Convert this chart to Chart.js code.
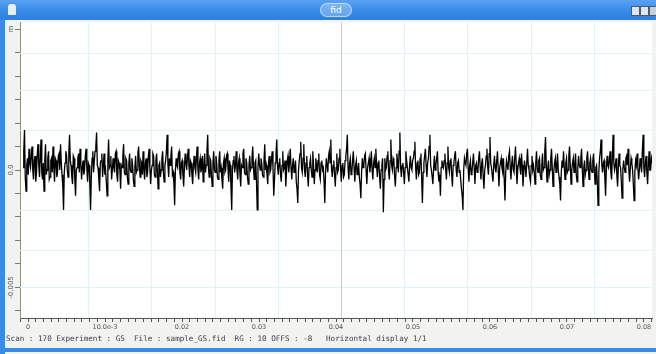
<!DOCTYPE html>
<html>
<head>
<meta charset="utf-8">
<script src="https://cdn.jsdelivr.net/npm/chart.js@4.4.1/dist/chart.umd.min.js"></script>
<style>
  body { margin: 0; background: #fff; }
  #win { position: relative; width: 656px; height: 354px; overflow: hidden; background: #f2f2f0; }
  #plot { position: absolute; left: 0; top: 0; }
  .title { position: absolute; left: 0; top: 0; width: 656px; height: 20px;
           background: linear-gradient(#58a2f2, #378ae8 55%, #2e7fe0); }
  .pill { position: absolute; left: 320px; top: 3px; width: 30px; height: 12px; border-radius: 7px;
          background: rgba(255,255,255,0.28); border: 1px solid rgba(255,255,255,0.55);
          color: #fff; font: 9px "DejaVu Sans", sans-serif; line-height: 12px; text-align: center; }
  .icon { position: absolute; left: 8px; top: 4px; width: 8px; height: 11px; background: #e8eef8; border-radius: 3px 3px 1px 1px; }
  .btn { position: absolute; top: 6px; width: 7px; height: 8px; background: #dfe6f0; border: 1px solid #4a5a70; }
  .lborder { position: absolute; left: 0; top: 20px; width: 5px; height: 334px; background: #3a8ae6; }
  .bborder { position: absolute; left: 0; top: 348px; width: 656px; height: 4px; background: #3a8ae6; }
  .status { position: absolute; left: 6px; top: 334px; font: 7.6px "DejaVu Sans Mono", monospace;
            color: #3a4050; white-space: pre; }
</style>
</head>
<body>
<div id="win">
  <canvas id="plot" width="656" height="354"></canvas>
  <div class="title"><div class="icon"></div><div class="pill">fid</div>
    <div class="btn" style="left:631px"></div><div class="btn" style="left:640px"></div><div class="btn" style="left:649px;background:#c8d0dc"></div>
  </div>
  <div class="lborder"></div>
  <div class="bborder"></div>
  <div class="status">Scan : 170 Experiment : GS  File : sample_GS.fid  RG : 10 OFFS : -8   Horizontal display 1/1</div>
</div>
<script>
// acquisition: first sample time and dwell time (s)
const t0 = -0.00065
const dwell = 0.0000975

// signal, in units of 0.1 mV
const signal = [
  1, 8, 17, -3, -9, 2, 5, -2, 9, 3, 1, 6, 10, 0, -4, 4, 6, -5, -1, 7, 11, 2, -3, 5, 13, -1, -4, 3, -9, 4, 11, -2, 0, 5, 8, -4, -3, 4, 5, -1,
  10, 1, -5, 5, 4, -3, -1, 6, 7, 0, 11, 3, -2, -7, -17, -1, 3, 8, 6, 0, -3, 7, 15, 4, 2, -3, -6, 6, 5, -4, -11, 0, 1, 5, 7, -1, 9, 3, -4, 1,
  4, -2, 0, 6, 9, 1, -5, 3, 2, -6, -17, -3, 5, 8, -1, 4, 8, 10, 16, 2, 1, -4, -9, 3, 4, 7, -3, 2, 7, -2, 0, -5, -11, 4, 13, 1, 2, 6, -4, 0,
  5, 1, -1, 7, 8, -2, -5, 4, 3, 0, -8, 2, 1, 6, 11, -1, -2, 5, 4, -3, -6, 3, 7, 0, -1, 5, 2, -4, -7, 1, 6, -1, 0, 7, 10, 2, -3, 4, 3, -2,
  8, 0, -4, 3, 5, -3, -1, 6, 9, 1, -6, 0, 2, 7, 6, -2, -3, 4, 7, -1, -8, 2, 3, -3, 0, 5, 8, -1, -5, 2, 4, 8, 15, 3, -3, 5, 2, 6, 10, -2,
  -1, -6, -15, 0, 5, 2, 1, 7, 8, -1, -4, 3, 4, -2, -7, 1, 7, 3, 0, 5, 9, 2, -3, 4, 3, -2, -6, 2, 6, 1, -1, 5, 10, 0, -4, 3, 5, -1, 1, 6,
  -5, 2, 7, -1, 2, 8, 15, 1, -3, 5, 4, -2, -7, 3, 8, 0, -1, 6, 3, -3, -4, 4, 8, -1, 1, -4, -8, 3, 5, -1, 0, 6, 7, 1, -5, 4, 2, -7, -17, 0,
  4, 6, -1, 2, 8, 0, -4, 3, 5, -2, -7, 2, 1, 7, 9, -1, -2, 5, 3, -3, -6, 2, 6, 0, 1, 5, 10, 1, -4, 3, 4, -5, -17, 1, 7, 2, 0, 5, 3, -2,
  -3, 4, 11, 0, 2, -2, -6, 3, 6, -1, 0, 5, 8, 1, -11, -4, 3, 7, 13, 2, -2, 3, 5, -2, -5, 2, 8, 0, 1, 4, -7, -1, 4, 6, -1, 3, 9, 1, -4, 2,
  5, -1, 1, 4, -5, -8, -14, 0, 4, 7, 12, 1, -1, 5, 11, 0, -3, 3, 6, -2, -7, 1, 3, 5, 0, -3, 8, 2, -6, 0, 5, 2, -1, 4, 7, -2, -4, 3, 4, 0,
  1, -5, -14, -1, 5, 2, -1, 6, 8, 3, 13, 0, -3, 2, 4, -2, -7, 1, 7, -1, 0, 5, 9, 1, -5, 2, 3, -3, -2, 4, 6, 9, 15, 1, -4, 3, 5, -2, -1, 4,
  8, 1, -5, 2, 4, -2, 0, 3, -3, -6, -12, -1, 5, 1, 2, 6, 7, 0, -6, 1, 3, 5, -1, 2, 8, 0, -4, 3, 5, 1, 9, 2, -3, 3, 4, -3, -8, 0, 2, 5,
  -18, -4, 5, 0, 1, 6, 8, -1, -4, 4, 13, 2, 0, 5, 4, -3, -7, 1, 7, 3, -1, 8, 16, 1, -3, 2, 3, -1, -6, 1, 8, 4, 1, -2, -5, 2, 6, 1, 0, 4,
  5, 8, 12, 1, -4, 3, 4, -2, -1, 5, 7, -3, -14, -1, 3, 6, 9, 2, -3, 3, 5, 10, 15, 2, 0, -3, -6, 1, 6, 0, 2, 5, 8, -1, -5, -2, -11, 1, 4, 2,
  1, 4, 7, 0, -4, 3, 10, 1, -1, 4, 5, -2, -7, 2, 3, 6, 8, 0, -3, 3, 4, -1, 0, -4, -8, -11, -17, 0, 5, 3, 2, 7, 9, 1, -5, 2, 4, -2, -1, 3,
  7, 1, -6, 2, 3, -1, 0, 5, 8, 1, -4, 3, 5, -3, -8, 0, 2, 6, 9, 1, -2, 7, 14, 3, 1, -2, -5, 2, 6, 1, -1, 4, 8, 0, -7, 1, 3, 5, 1, -1,
  5, -4, -13, -1, 4, 2, 0, 6, 8, 1, -4, 3, 6, 0, -1, 5, 10, 2, -6, 0, 3, 5, 1, -2, 7, 2, -7, -1, 4, 1, -3, 3, 9, 2, 0, -3, -5, 2, 6, 0,
  2, -1, -6, 3, 8, 1, -1, 4, 5, -2, -4, 2, 7, 0, 1, 8, 14, 2, -5, 1, 4, -2, 0, 5, 9, 1, -7, -1, 3, 5, -1, 2, 7, 0, -3, -6, -13, -1, 4, 1,
  8, 1, -4, 3, 5, -1, 0, 6, 10, 2, -6, 0, 3, 5, -1, 2, 7, -2, -5, 1, 6, 2, 1, 5, 9, 0, -7, 1, 4, -2, 0, 5, 8, 1, -4, 3, 5, 0, -1, 4,
  7, 0, -6, 1, 2, -5, -15, -1, 5, 8, 13, 2, -1, 3, 4, -3, -11, 0, 6, 2, 1, 4, 8, -1, -4, 5, 15, 3, 0, 2, 5, -2, -7, 1, 7, 2, 1, -5, -12, 0,
  4, 1, -1, 5, 6, 2, 9, 0, -5, 1, 5, 3, 0, -6, -13, -1, 4, 2, 7, 1, -4, 0, 5, 2, -1, 8, 15, 1, -3, 3, 6, -1, -6, 2, 8, 0, 0, 5, 3, 1
]

// axis labels
const xLabels = {0: "0", 1: "10.0e-3", 2: "0.02", 3: "0.03", 4: "0.04", 5: "0.05", 6: "0.06", 7: "0.07", 8: "0.08"}
const yLabels = [[0.006, "m"], [0, "0.0"], [-0.005, "-0.005"]]

// faint display grid and cursor
const gridX = [0.0078, 0.016, 0.0243, 0.0325, 0.0488, 0.057, 0.0653, 0.0735]
const gridY = [0.005, 0.0034, 0.0017, -0.0017, -0.0034, -0.005]
const cursorX = 0.0406

const points = signal.map((v, i) => ({x: t0 + i * dwell, y: v * 1e-4}))

const windowPlugin = {
  id: "windowBits",
  beforeDraw(chart) {
    const {ctx, chartArea: a} = chart
    ctx.save()
    ctx.fillStyle = "#ffffff"
    ctx.fillRect(a.left, a.top, a.right - a.left, a.bottom - a.top)
    ctx.restore()
  },
  beforeDatasetsDraw(chart) {
    const {ctx, chartArea: a, scales} = chart
    ctx.save()
    ctx.lineWidth = 1
    ctx.strokeStyle = "#e3f3f5"
    gridX.forEach(v => {
      let px = Math.round(scales.x.getPixelForValue(v)) + 0.5
      ctx.beginPath(); ctx.moveTo(px, a.top); ctx.lineTo(px, a.bottom); ctx.stroke()
    })
    gridY.forEach(v => {
      let py = Math.round(scales.y.getPixelForValue(v)) + 0.5
      ctx.beginPath(); ctx.moveTo(a.left, py); ctx.lineTo(a.right, py); ctx.stroke()
    })
    ctx.strokeStyle = "#a6d6f4"
    let cx = Math.round(scales.x.getPixelForValue(cursorX)) + 0.5
    ctx.beginPath(); ctx.moveTo(cx, a.top); ctx.lineTo(cx, a.bottom); ctx.stroke()
    ctx.restore()
  },
  afterDraw(chart) {
    const {ctx, scales} = chart
    ctx.save()
    ctx.fillStyle = "#555"
    ctx.font = "7px 'DejaVu Sans', sans-serif"
    ctx.textAlign = "center"
    ctx.textBaseline = "middle"
    yLabels.forEach(([v, txt]) => {
      let py = scales.y.getPixelForValue(v)
      ctx.save()
      ctx.translate(11, py)
      ctx.rotate(-Math.PI / 2)
      ctx.fillText(txt, 0, 0)
      ctx.restore()
    })
    ctx.restore()
  }
}

const isMajor = v => Math.abs(v / 0.01 - Math.round(v / 0.01)) < 1e-6

new Chart(document.getElementById("plot"), {
  type: "line",
  data: {
    datasets: [{
      data: points,
      borderColor: "#000",
      borderWidth: 1.3,
      pointRadius: 0,
      tension: 0,
      fill: false
    }]
  },
  options: {
    responsive: false,
    animation: false,
    events: [],
    layout: {padding: {left: 12, top: 22, right: 4, bottom: 16}},
    plugins: {legend: {display: false}, tooltip: {enabled: false}},
    scales: {
      x: {
        type: "linear",
        min: -0.00104,
        max: 0.08104,
        afterFit: s => { s.height = 20 },
        border: {color: "#555", width: 1},
        grid: {drawOnChartArea: false, drawTicks: true, tickLength: 4, tickColor: "#555"},
        ticks: {
          stepSize: 0.001,
          autoSkip: false,
          includeBounds: false,
          maxRotation: 0,
          minRotation: 0,
          padding: 1,
          color: "#555",
          font: {family: "'DejaVu Sans', sans-serif", size: 6.5},
          callback: v => isMajor(v) ? xLabels[Math.round(v / 0.01)] : ""
        }
      },
      y: {
        min: -0.0063,
        max: 0.0063,
        afterFit: s => { s.width = 8 },
        border: {color: "#8c9478", width: 1},
        grid: {drawOnChartArea: false, drawTicks: true, tickLength: 5, tickColor: "#777"},
        ticks: {stepSize: 0.001, includeBounds: false, display: false}
      }
    }
  },
  plugins: [windowPlugin]
})
</script>
</body>
</html>
